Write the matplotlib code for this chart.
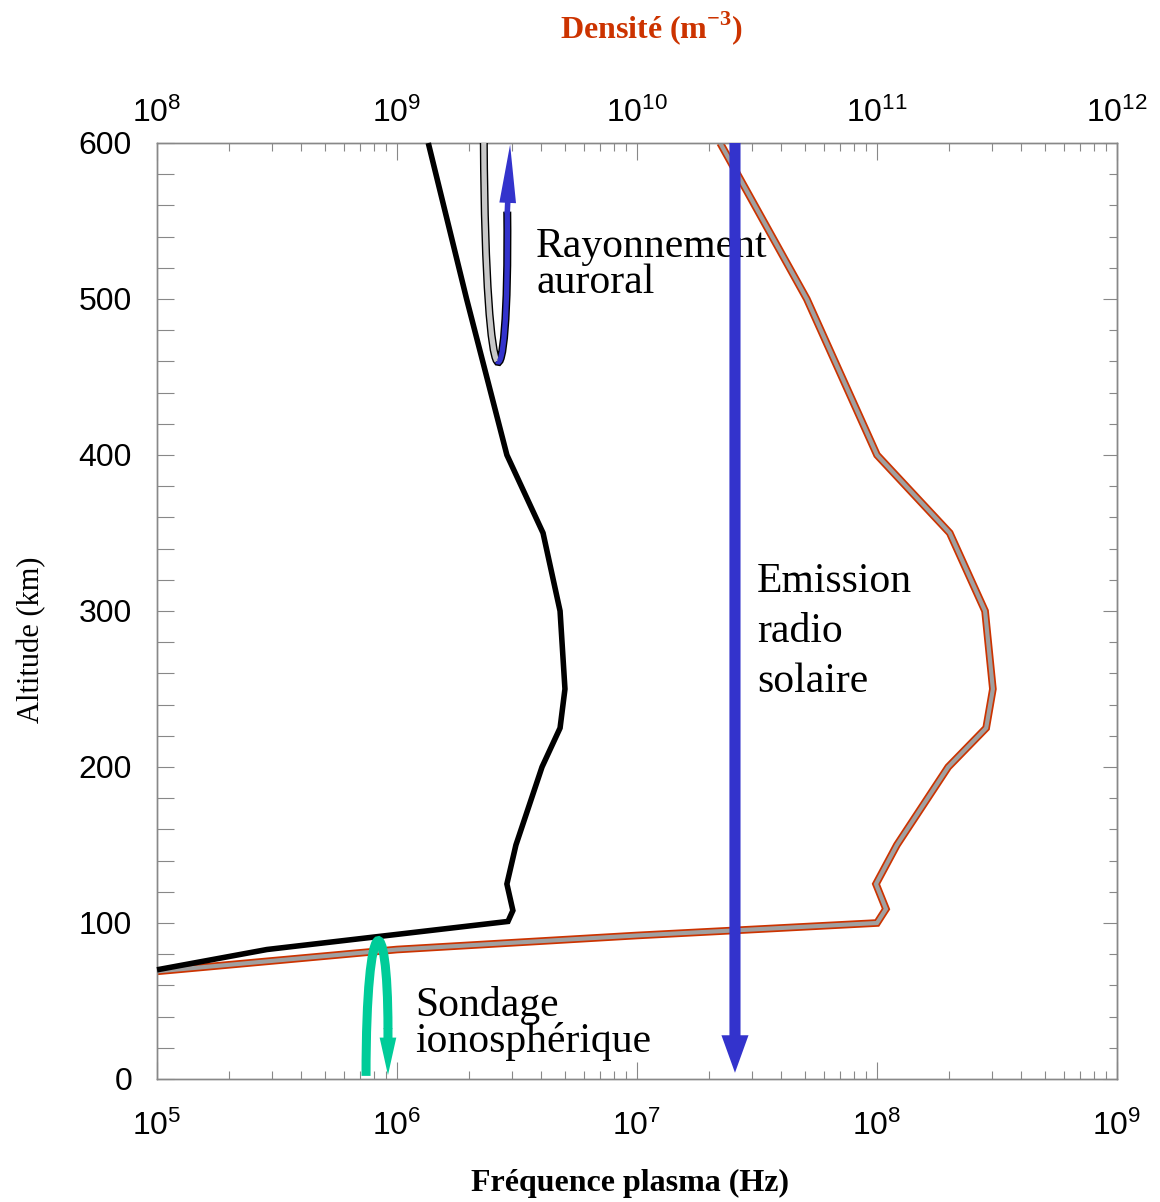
import numpy as np
import matplotlib
matplotlib.use("Agg")
import matplotlib.pyplot as plt
from matplotlib.path import Path
from matplotlib.patches import PathPatch
from matplotlib.ticker import MultipleLocator, LogLocator, NullFormatter

plt.rcParams['font.family'] = ['Liberation Sans', 'DejaVu Sans']
plt.rcParams['mathtext.fontset'] = 'custom'
plt.rcParams['mathtext.rm'] = 'Liberation Sans'
plt.rcParams['mathtext.bf'] = 'Liberation Serif:bold'

# ---------------- data ----------------
# plasma frequency profile (bottom axis, Hz)
alt_freq = [70, 83, 101, 108, 125, 150, 200, 225, 250, 300, 350, 400, 500, 600]
freq_hz = [1.0e5, 2.87e5, 2.90e6, 3.04e6, 2.87e6, 3.13e6, 4.02e6, 4.78e6,
           5.01e6, 4.78e6, 4.06e6, 2.87e6, 1.95e6, 1.35e6]

# electron density profile (top axis, m^-3)
alt_dens = [69, 83, 92, 100, 109, 125, 150, 200, 225, 250, 300, 350, 400, 500, 600]
dens_m3 = [1.0e8, 1.0e9, 1.0e10, 1.0e11, 1.09e11, 0.99e11, 1.21e11, 1.98e11,
           2.85e11, 3.04e11, 2.82e11, 2.01e11, 1.0e11, 5.1e10, 2.22e10]

freq_ticks = [1e5, 1e6, 1e7, 1e8, 1e9]
dens_ticks = [1e8, 1e9, 1e10, 1e11, 1e12]
alt_ticks = [0, 100, 200, 300, 400, 500, 600]

# annotation arrows (frequency in Hz, altitude in km)
solar_freq = 2.56e7
solar_alt = [600, 4]
iono_freq = [7.43e5, 9.17e5]       # up-going leg, down-going leg
iono_alt = [2, 112, 32, 2.5]       # start, control height, head start, tip
aurora_freq = [2.30e6, 2.34e6, 2.94e6, 2.88e6, 2.96e6]  # bezier P0..P3, arrow tip
aurora_alt = [600, 421, 421, 556, 599]

texts_aurora = ['Rayonnement', 'auroral']
texts_solar = ['Emission', 'radio', 'solaire']
texts_iono = ['Sondage', 'ionosphérique']

# ---------------- colours ----------------
RED = '#CC3300'
GRAYB = '#A0A0A0'
BLUE = '#3333CC'
GREEN = '#00CC99'
LGRAY = '#C8C8C8'
AXC = '#888888'

W, H = 1160, 1202
fig = plt.figure(figsize=(W / 100, H / 100), dpi=100)
def fx(x):
    return x / W
def fy(y):
    return 1 - y / H

rect = [fx(157), fy(1079), 960 / W, 936 / H]
ax_d = fig.add_axes(rect)          # density axis (top)
ax_f = ax_d.twiny()                # frequency axis (bottom)

ax_d.set_xscale('log')
ax_f.set_xscale('log')
ax_d.set_xlim(dens_ticks[0], dens_ticks[-1])
ax_f.set_xlim(freq_ticks[0], freq_ticks[-1])
ax_d.set_ylim(alt_ticks[0], alt_ticks[-1])

ax_d.xaxis.tick_top()
ax_f.xaxis.tick_bottom()

for a in (ax_d, ax_f):
    for s in a.spines.values():
        s.set_color(AXC)
        s.set_linewidth(1.0)

ax_d.set_xticks(dens_ticks)
ax_f.set_xticks(freq_ticks)
ax_d.xaxis.set_minor_locator(LogLocator(base=10, subs=np.arange(2, 10), numticks=20))
ax_f.xaxis.set_minor_locator(LogLocator(base=10, subs=np.arange(2, 10), numticks=20))
ax_d.xaxis.set_minor_formatter(NullFormatter())
ax_f.xaxis.set_minor_formatter(NullFormatter())

ax_d.set_yticks(alt_ticks)
ax_d.yaxis.set_minor_locator(MultipleLocator(20))
ax_d.yaxis.tick_left()

ax_d.tick_params(axis='x', which='major', direction='in', length=12, width=0.8,
                 color=AXC, labelsize=23, pad=10, top=True, bottom=False,
                 labeltop=True, labelbottom=False)
ax_d.tick_params(axis='x', which='minor', direction='in', length=6, width=0.8,
                 color=AXC, top=True, bottom=False)
ax_f.tick_params(axis='x', which='major', direction='in', length=12, width=0.8,
                 color=AXC, labelsize=23, pad=23, top=False, bottom=True,
                 labeltop=False, labelbottom=True)
ax_f.tick_params(axis='x', which='minor', direction='in', length=6, width=0.8,
                 color=AXC, top=False, bottom=True)
ax_d.tick_params(axis='y', which='both', direction='in', length=12, width=0.8,
                 color=AXC, labelsize=23, pad=18, left=True, right=False)

sec = ax_d.secondary_yaxis('right')
sec.set_yticks(alt_ticks)
sec.yaxis.set_minor_locator(MultipleLocator(20))
sec.tick_params(axis='y', which='major', direction='in', length=10, width=0.8,
                color=AXC, labelright=False)
sec.tick_params(axis='y', which='minor', direction='in', length=6, width=0.8,
                color=AXC)
sec.spines['right'].set_color(AXC)
sec.set_yticklabels([])

# density profile: gray core with red outline
ax_d.plot(dens_m3, alt_dens, color=RED, lw=5.5, solid_joinstyle='miter',
          solid_capstyle='butt', zorder=2)
ax_d.plot(dens_m3, alt_dens, color=GRAYB, lw=3.0, solid_joinstyle='miter',
          solid_capstyle='butt', zorder=3)

# plasma frequency profile
ax_f.plot(freq_hz, alt_freq, color='black', lw=4.0, solid_joinstyle='miter',
          solid_capstyle='butt', zorder=3, clip_on=False)

# ---- annotation texts (under the arrows) ----
serif = dict(family='Liberation Serif', size=30, va='baseline', ha='left',
             transform=fig.transFigure, zorder=1, color='black')
for s, yb in zip(texts_aurora, [257, 293]):
    ax_f.text(fx(536), fy(yb), s, **serif)
for s, yb in zip(texts_solar, [592, 642, 692]):
    ax_f.text(fx(757), fy(yb), s, **serif)
for s, yb in zip(texts_iono, [1016, 1052]):
    ax_f.text(fx(415), fy(yb), s, **serif)

# ---- big solar radio arrow ----
ax_f.annotate('', xy=(solar_freq, solar_alt[1]), xytext=(solar_freq, solar_alt[0]),
              arrowprops=dict(width=8, headwidth=19.5, headlength=27,
                              facecolor=BLUE, edgecolor='none', lw=0),
              zorder=5, annotation_clip=False)

# ---- ionospheric sounding arrow (green) ----
lx = np.log10(iono_freq)
ctrl = [(lx[0], iono_alt[0]), (lx[0], iono_alt[1]), (lx[1], iono_alt[1]),
        (lx[1], iono_alt[2])]
verts = [(10 ** x, y) for x, y in ctrl]
p = Path(verts, [Path.MOVETO, Path.CURVE4, Path.CURVE4, Path.CURVE4])
ax_f.add_patch(PathPatch(p, fill=False, edgecolor=GREEN, lw=6.5,
                         capstyle='butt', zorder=5))
ax_f.annotate('', xy=(iono_freq[1], iono_alt[3]), xytext=(iono_freq[1], iono_alt[2] + 0.5),
              arrowprops=dict(width=6.5, headwidth=12, headlength=27,
                              facecolor=GREEN, edgecolor='none', lw=0),
              zorder=5, annotation_clip=False)

# ---- auroral radiation arrow (U shape: gray down, blue up) ----
ax_ = np.log10(aurora_freq)
P = [np.array([ax_[i], aurora_alt[i]]) for i in range(4)]
# de Casteljau split at t=0.5
P01 = (P[0] + P[1]) / 2; P12 = (P[1] + P[2]) / 2; P23 = (P[2] + P[3]) / 2
P012 = (P01 + P12) / 2; P123 = (P12 + P23) / 2; M = (P012 + P123) / 2
def mkpath(pts):
    v = [(10 ** q[0], q[1]) for q in pts]
    return Path(v, [Path.MOVETO, Path.CURVE4, Path.CURVE4, Path.CURVE4])
full = mkpath(P)
left = mkpath([P[0], P01, P012, M])
right = mkpath([M, P123, P23, P[3]])
ax_f.add_patch(PathPatch(full, fill=False, edgecolor='black', lw=5.8,
                         capstyle='butt', zorder=5))
ax_f.add_patch(PathPatch(left, fill=False, edgecolor=LGRAY, lw=3.8,
                         capstyle='butt', zorder=6))
ax_f.add_patch(PathPatch(right, fill=False, edgecolor=BLUE, lw=3.8,
                         capstyle='butt', zorder=6))
ax_f.annotate('', xy=(aurora_freq[4], aurora_alt[4]),
              xytext=(aurora_freq[3], aurora_alt[3] - 1),
              arrowprops=dict(width=4, headwidth=12, headlength=42,
                              facecolor=BLUE, edgecolor='none', lw=0),
              zorder=7, annotation_clip=False)

# ---- axis titles ----
fig.text(fx(630), fy(1183), 'Fréquence plasma (Hz)', ha='center', va='center',
         family='Liberation Serif', weight='bold', size=23)
fig.text(fx(32), fy(640), 'Altitude (km)', ha='center', va='center', rotation=90,
         family='Liberation Serif', size=22)
fig.text(fx(652), fy(28), 'Densité (m$^{\\mathbf{-3}}$)', ha='center', va='center',
         family='Liberation Serif', weight='bold', size=23, color=RED)

fig.savefig('out.png', dpi=100)
